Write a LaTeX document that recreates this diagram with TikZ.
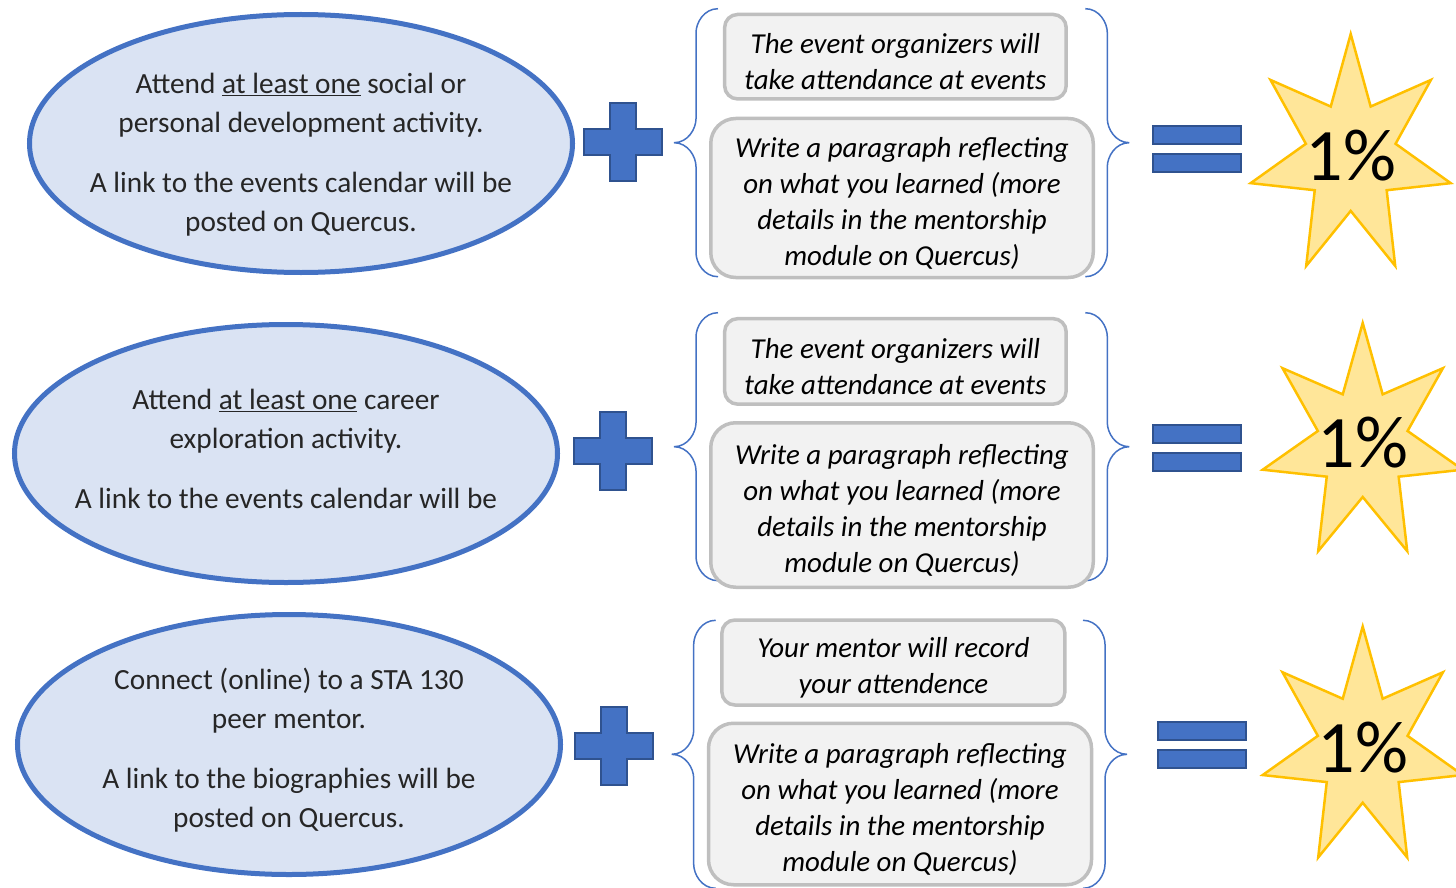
\documentclass[tikz,border=0pt]{standalone}
\usepackage{fontspec}
\setmainfont{Carlito}
\usetikzlibrary{shapes.geometric,calc}

\definecolor{accent}{HTML}{4472C4}
\definecolor{accentdark}{HTML}{2F528F}
\definecolor{ovalfill}{HTML}{DAE3F3}
\definecolor{boxfill}{HTML}{F2F2F2}
\definecolor{boxline}{HTML}{BFBFBF}
\definecolor{starfill}{HTML}{FFE699}
\definecolor{starline}{HTML}{FFC000}

\newcommand{\boxstrut}{\rule{0pt}{30pt}}

\tikzset{
    goal/.style={ellipse, draw=accent, line width=5pt, fill=ovalfill, inner sep=0pt},
    goaltext/.style={align=center, text=black!85, font=\fontsize{29.3}{39}\selectfont},
    task/.style={rectangle, rounded corners=13pt, draw=boxline, line width=3.5pt, fill=boxfill,
        align=center, text=black, font=\fontsize{28.9}{36}\selectfont\itshape},
    bracket/.style={draw=accent, line width=1.5pt},
    opshape/.style={fill=accent, draw=accentdark, line width=2pt},
    eqbar/.style={opshape, rectangle, minimum width=88pt, minimum height=18pt, inner sep=0pt},
    burst/.style={fill=starfill, draw=starline, line width=2.5pt},
    pct/.style={font=\fontsize{74}{80}\selectfont, text=black}
}

\begin{document}
\begin{tikzpicture}[x=1pt, y=-1pt]
    \useasboundingbox (0,0) rectangle (1456,888);

    % activities
    \node[goal, minimum width=543pt, minimum height=258pt] (act1) at (301,143.5) {};
    \node[goal, minimum width=543pt, minimum height=258pt] (act2) at (286,453.5) {};
    \node[goal, minimum width=543pt, minimum height=260pt] (act3) at (289,744.5) {};
    \node[goaltext] (act1txt) at (301,154.5) {Attend \underline{at least one} social or\\personal development activity.\\[21pt]A link to the events calendar will be\\posted on Quercus.};
    \node[goaltext] (act2txt) at (286,449) {Attend \underline{at least one} career\\exploration activity.\\[21pt]A link to the events calendar will be};
    \node[goaltext] (act3txt) at (289,750) {Connect (online) to a STA 130\\peer mentor.\\[21pt]A link to the biographies will be\\posted on Quercus.};

    % plus, braces, equals, stars
    \foreach \r/\px/\py/\bl/\br/\by/\ex/\ey/\sx/\sy/\ry in {
        1/623/141.7/674/1129.3/142.7/1197/149/1350.7/156/122,
        2/612.5/451/674/1129.3/446.7/1196.5/448/1362.7/443/120,
        3/613.5/746/671.7/1127/754.3/1201.5/745/1362.7/748/121.5} {
        \coordinate (plus\r) at (\px,\py);
        \draw[opshape] (plus\r) ++(-13,-39) -- ++(26,0) -- ++(0,26) -- ++(26,0) -- ++(0,26) -- ++(-26,0)
            -- ++(0,26) -- ++(-26,0) -- ++(0,-26) -- ++(-26,0) -- ++(0,-26) -- ++(26,0) -- cycle;

        \coordinate (lb\r) at (\bl,\by);
        \coordinate (rb\r) at (\br,\by);
        \draw[bracket] (lb\r) .. controls +(14,0) and +(0,10) .. ++(22,-24) -- ++(0,-86) .. controls +(0,-10) and +(-14,0) .. ++(22,-24)
            (lb\r) .. controls +(14,0) and +(0,-10) .. ++(22,24) -- ++(0,86) .. controls +(0,10) and +(-14,0) .. ++(22,24);
        \draw[bracket] (rb\r) .. controls +(-14,0) and +(0,10) .. ++(-22,-24) -- ++(0,-86) .. controls +(0,-10) and +(14,0) .. ++(-22,-24)
            (rb\r) .. controls +(-14,0) and +(0,-10) .. ++(-22,24) -- ++(0,86) .. controls +(0,10) and +(14,0) .. ++(-22,24);

        \node[eqbar] (eqa\r) at (\ex,{\ey-14}) {};
        \node[eqbar] (eqb\r) at (\ex,{\ey+14}) {};

        \coordinate (st\r) at (\sx,\sy);
        \draw[burst] ($(st\r)+(0,-\ry)$) \foreach \k in {1,...,7} {
            -- ($(st\r)+({46*cos(-90+(2*\k-1)*180/7)},{0.45*\ry*sin(-90+(2*\k-1)*180/7)})$)
            -- ($(st\r)+({102.6*cos(-90+2*\k*180/7)},{\ry*sin(-90+2*\k*180/7)})$) } -- cycle;
        \node[pct] (pct\r) at (st\r) {1\%};
    }

    % how it is checked
    \node[task, minimum width=341.5pt, minimum height=84.5pt] (org1) at (895.4,56.7) {\boxstrut The event organizers will\\take attendance at events};
    \node[task, rounded corners=25pt, minimum width=382.5pt, minimum height=159pt] (refl1) at (902,198) {\boxstrut Write a paragraph reflecting\\on what you learned (more\\details in the mentorship\\module on Quercus)};
    \node[task, minimum width=341.5pt, minimum height=85.5pt] (org2) at (895.4,361.4) {\boxstrut The event organizers will\\take attendance at events};
    \node[task, rounded corners=25pt, minimum width=382.5pt, minimum height=164.5pt] (refl2) at (902,505) {\boxstrut Write a paragraph reflecting\\on what you learned (more\\details in the mentorship\\module on Quercus)};
    \node[task, minimum width=343pt, minimum height=85pt] (mentor3) at (893.4,662.5) {\boxstrut Your mentor will record\\your attendence};
    \node[task, rounded corners=25pt, minimum width=383pt, minimum height=161.5pt] (refl3) at (900,804) {\boxstrut Write a paragraph reflecting\\on what you learned (more\\details in the mentorship\\module on Quercus)};
\end{tikzpicture}
\end{document}
